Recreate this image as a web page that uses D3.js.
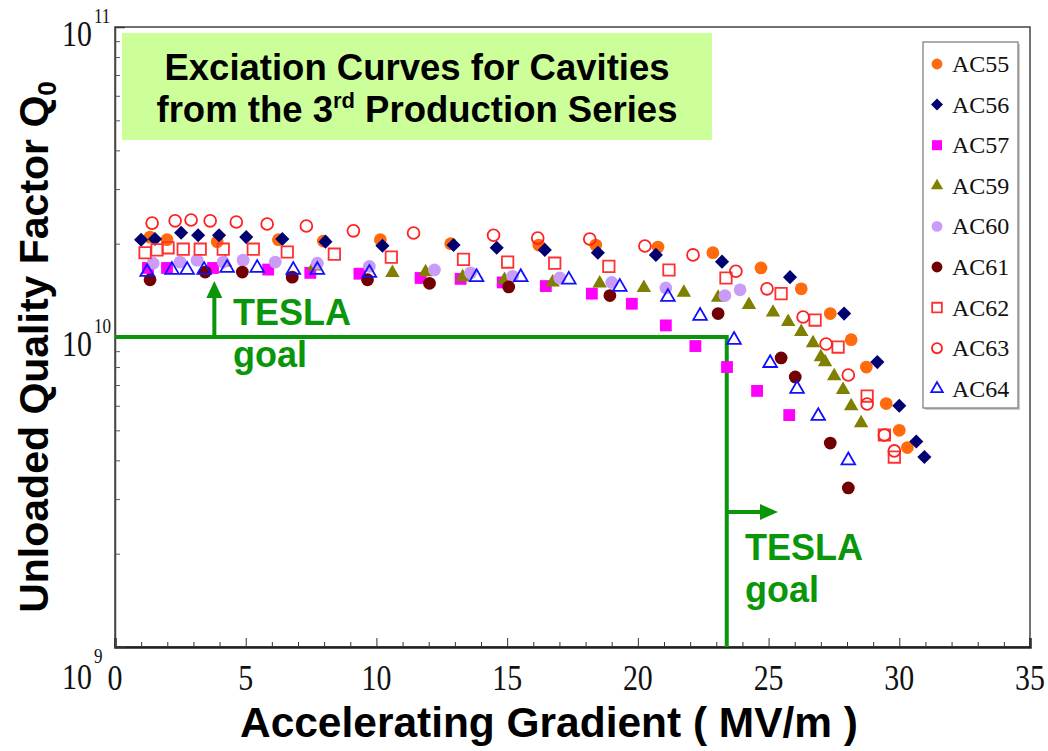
<!DOCTYPE html>
<html>
<head>
<meta charset="utf-8">
<script src="https://cdn.jsdelivr.net/npm/d3@7"></script>
<style>
  body { margin: 0; background: #fff; }
  svg { display: block; }
</style>
</head>
<body>
<svg id="chart" width="1048" height="751"></svg>
<script>
// Excitation curves: [accelerating gradient (MV/m), unloaded quality factor Q0]
const ac55 = [[1.34,2.10e10],[1.99,2.06e10],[3.91,2.03e10],[6.25,2.06e10],[7.97,2.04e10],[10.15,2.06e10],[12.84,2.00e10],[16.21,1.98e10],[18.39,1.98e10],[20.77,1.95e10],[22.87,1.87e10],[24.71,1.67e10],[26.25,1.43e10],[27.36,1.19e10],[28.16,9.8e9],[28.74,8.0e9],[29.5,6.1e9],[30.0,5.0e9],[30.31,4.4e9]];
const ac56 = [[1.0,2.06e10],[1.53,2.07e10],[2.53,2.17e10],[3.18,2.13e10],[3.98,2.13e10],[5.02,2.10e10],[6.40,2.07e10],[8.05,2.03e10],[10.23,1.97e10],[12.95,1.98e10],[14.6,1.94e10],[16.44,1.91e10],[18.47,1.87e10],[20.69,1.84e10],[23.22,1.75e10],[25.82,1.56e10],[27.89,1.19e10],[29.16,8.3e9],[30.0,6.0e9],[30.65,4.6e9],[30.96,4.1e9]];
const ac57 = [[1.26,1.67e10],[1.99,1.67e10],[3.75,1.67e10],[5.86,1.65e10],[7.47,1.61e10],[9.35,1.60e10],[11.69,1.55e10],[13.22,1.54e10],[14.83,1.50e10],[16.48,1.46e10],[18.24,1.38e10],[19.77,1.28e10],[21.07,1.09e10],[22.2,9.35e9],[23.41,8.0e9],[24.56,6.7e9],[25.79,5.6e9]];
const ac59 = [[4.21,1.74e10],[7.62,1.69e10],[10.61,1.61e10],[11.88,1.62e10],[13.3,1.56e10],[14.9,1.53e10],[16.74,1.50e10],[18.54,1.49e10],[20.23,1.44e10],[21.76,1.39e10],[23.07,1.34e10],[24.25,1.27e10],[25.17,1.20e10],[25.75,1.12e10],[26.25,1.04e10],[26.7,9.56e9],[27.0,8.62e9],[27.16,8.3e9],[27.51,7.48e9],[27.85,6.75e9],[28.16,5.99e9],[28.54,5.28e9]];
const ac60 = [[1.46,1.73e10],[2.49,1.745e10],[3.14,1.77e10],[4.14,1.745e10],[4.9,1.77e10],[6.13,1.745e10],[7.74,1.73e10],[9.73,1.69e10],[12.22,1.645e10],[13.6,1.61e10],[15.21,1.57e10],[17.01,1.55e10],[19.0,1.50e10],[21.07,1.44e10],[23.33,1.36e10],[23.91,1.42e10]];
const ac61 = [[1.34,1.53e10],[3.45,1.62e10],[4.87,1.62e10],[6.78,1.56e10],[9.66,1.53e10],[12.03,1.49e10],[15.06,1.45e10],[18.93,1.36e10],[23.07,1.19e10],[25.48,8.56e9],[26.02,7.43e9],[27.36,4.55e9],[28.05,3.26e9]];
const ac62 = [[1.15,1.87e10],[1.61,1.91e10],[2.03,1.94e10],[2.61,1.92e10],[3.26,1.92e10],[4.14,1.92e10],[5.29,1.92e10],[6.59,1.88e10],[8.39,1.85e10],[10.57,1.81e10],[13.33,1.78e10],[15.02,1.745e10],[16.82,1.73e10],[18.89,1.69e10],[21.19,1.645e10],[23.37,1.55e10],[25.48,1.38e10],[26.78,1.134e10],[27.66,9.28e9],[28.77,6.45e9],[29.43,4.83e9],[29.81,4.10e9]];
const ac63 = [[1.42,2.33e10],[2.3,2.37e10],[2.91,2.385e10],[3.64,2.37e10],[4.64,2.35e10],[5.82,2.315e10],[7.32,2.28e10],[9.12,2.20e10],[11.42,2.165e10],[14.48,2.13e10],[16.17,2.085e10],[18.16,2.07e10],[20.27,1.966e10],[22.11,1.84e10],[23.75,1.63e10],[24.94,1.43e10],[26.32,1.16e10],[27.2,9.49e9],[28.05,7.54e9],[28.77,6.08e9],[29.43,4.83e9],[29.81,4.29e9]];
const ac64 = [[1.23,1.62e10],[2.18,1.645e10],[2.76,1.645e10],[3.41,1.645e10],[4.29,1.67e10],[5.44,1.67e10],[6.82,1.645e10],[7.74,1.645e10],[9.73,1.61e10],[13.83,1.56e10],[15.52,1.56e10],[17.36,1.53e10],[19.31,1.45e10],[21.15,1.346e10],[22.38,1.17e10],[23.68,9.79e9],[25.06,8.24e9],[26.09,6.8e9],[26.9,5.56e9],[28.05,4.0e9]];

const seriesNames  = ["AC55","AC56","AC57","AC59","AC60","AC61","AC62","AC63","AC64"];
const seriesData   = [ac55, ac56, ac57, ac59, ac60, ac61, ac62, ac63, ac64];
const seriesColors = ["#ff6a0d","#000070","#ff00ff","#7f7f00","#c99cf7","#720000","#ff3030","#ff2020","#1010ff"];
const seriesShapes = ["circle","diamond","square","triangle","circle","circle","square","circle","triangle"];
const seriesFilled = [true,true,true,true,true,true,false,false,false];

const xTicks = [0,5,10,15,20,25,30,35];
const yTicks = [1e9,1e10,1e11];
const yTickExponents = ["9","10","11"];

const teslaGoalGradient = 23.4;
const teslaGoalQ0 = 1e10;

const titleLines = ["Exciation Curves for Cavities", "from the 3"];
const xLabel = "Accelerating Gradient ( MV/m )";
const yLabel = "Unloaded Quality Factor Q";

const svg = d3.select("#chart");
const x = d3.scaleLinear().domain([0, 35]).range([115, 1030]);
const y = d3.scaleLog().domain([1e9, 1e11]).range([647, 27]);

const green = "#0a960a";
const serif = "'Liberation Serif', 'Times New Roman', serif";
const sans = "'Liberation Sans', Arial, sans-serif";

// frame
svg.append("rect")
  .attr("x", x(0)).attr("y", y(1e11))
  .attr("width", x(35) - x(0)).attr("height", y(1e9) - y(1e11))
  .attr("fill", "none").attr("stroke", "#444").attr("stroke-width", 1.5);

// title panel
const tb = svg.append("g");
tb.append("rect").attr("x", 122).attr("y", 33).attr("width", 590).attr("height", 107)
  .attr("fill", "#ccff99");
tb.append("text").attr("x", 417).attr("y", 80).attr("text-anchor", "middle")
  .attr("font-family", sans).attr("font-weight", "bold").attr("font-size", 36.5)
  .text(titleLines[0]);
const t2 = tb.append("text").attr("x", 417).attr("y", 122).attr("text-anchor", "middle")
  .attr("font-family", sans).attr("font-weight", "bold").attr("font-size", 36.5);
t2.append("tspan").text(titleLines[1]);
t2.append("tspan").attr("font-size", 22).attr("dy", -14).text("rd");
t2.append("tspan").attr("dy", 14).text(" Production Series");

// x axis ticks (inward) with minor ticks every 1 MV/m
const xAxis = d3.axisBottom(x).tickValues(xTicks).tickSize(-9).tickFormat("");
const gx = svg.append("g").attr("transform", `translate(0,${y(1e9)})`).call(xAxis);
gx.select(".domain").attr("stroke", "#222").attr("stroke-width", 2.5);
gx.selectAll(".tick line").attr("stroke", "#333");
const xMinor = d3.axisBottom(x).tickValues(d3.range(0, 36).filter(v => v % 5 !== 0)).tickSize(-5).tickFormat("");
const gxm = svg.append("g").attr("transform", `translate(0,${y(1e9)})`).call(xMinor);
gxm.select(".domain").remove();
gxm.selectAll(".tick line").attr("stroke", "#333");

// x tick labels (condensed serif)
svg.append("g").selectAll("text").data(xTicks).join("text")
  .attr("transform", d => `translate(${x(d)},690) scale(0.83,1)`)
  .attr("text-anchor", "middle")
  .attr("font-family", serif).attr("font-size", 36).attr("fill", "#111")
  .text(d => d);

// y axis ticks (log, inward)
const yMinorVals = [];
[1e9, 1e10].forEach(b => { for (let k = 2; k <= 9; k++) yMinorVals.push(b * k); });
const yAxis = d3.axisLeft(y).tickValues(yTicks).tickSize(-10).tickFormat("");
const gy = svg.append("g").attr("transform", `translate(${x(0)},0)`).call(yAxis);
gy.select(".domain").attr("stroke", "#444").attr("stroke-width", 1.5);
gy.selectAll(".tick line").attr("stroke", "#333");
const yMinor = d3.axisLeft(y).tickValues(yMinorVals).tickSize(-5).tickFormat("");
const gym = svg.append("g").attr("transform", `translate(${x(0)},0)`).call(yMinor);
gym.select(".domain").remove();
gym.selectAll(".tick line").attr("stroke", "#555");

// y tick labels: 10 with superscript exponent
const yLab = svg.append("g");
yTicks.forEach((v, i) => {
  const base = v === 1e9 ? y(v) + 42 : y(v) + 19;
  const supBase = v === 1e9 ? y(v) + 16 : y(v) - 4;
  yLab.append("text")
    .attr("transform", `translate(92,${base}) scale(0.83,1)`)
    .attr("text-anchor", "end")
    .attr("font-family", serif).attr("font-size", 36).attr("fill", "#111")
    .text("10");
  yLab.append("text")
    .attr("transform", `translate(94,${supBase}) scale(0.85,1)`)
    .attr("text-anchor", "start")
    .attr("font-family", serif).attr("font-size", 20).attr("fill", "#111")
    .text(yTickExponents[i]);
});

// axis titles
svg.append("text")
  .attr("x", 549).attr("y", 737).attr("text-anchor", "middle")
  .attr("font-family", sans).attr("font-weight", "bold").attr("font-size", 43)
  .attr("textLength", 618).attr("lengthAdjust", "spacingAndGlyphs")
  .text(xLabel);
const yt = svg.append("text")
  .attr("transform", "translate(48,347) rotate(-90)")
  .attr("text-anchor", "middle")
  .attr("font-family", sans).attr("font-weight", "bold").attr("font-size", 41);
yt.append("tspan").text(yLabel);
yt.append("tspan").attr("font-size", 26).attr("dy", 8).text("0");

// TESLA goal lines
const gl = svg.append("g").attr("stroke", green).attr("fill", "none").attr("stroke-width", 4);
gl.append("path").attr("d", d3.line()([
  [x(0), y(teslaGoalQ0)], [x(teslaGoalGradient), y(teslaGoalQ0)], [x(teslaGoalGradient), y(1e9)]
]));
// up arrow for Q0 goal
const upX = x(3.8);
gl.append("line").attr("x1", upX).attr("x2", upX).attr("y1", y(teslaGoalQ0)).attr("y2", 296);
svg.append("path").attr("fill", green)
  .attr("d", `M${upX},281 L${upX - 8},298 L${upX + 8},298 Z`);
// right arrow for gradient goal
const arrY = 512;
gl.append("line").attr("x1", x(teslaGoalGradient)).attr("x2", 762).attr("y1", arrY).attr("y2", arrY);
svg.append("path").attr("fill", green)
  .attr("d", `M778,${arrY} L760,${arrY - 8} L760,${arrY + 8} Z`);

const goalText = svg.append("g").attr("fill", green).attr("font-family", sans)
  .attr("font-weight", "bold").attr("font-size", 36);
goalText.append("text").attr("x", 233).attr("y", 325).text("TESLA");
goalText.append("text").attr("x", 233).attr("y", 367).text("goal");
goalText.append("text").attr("x", 745).attr("y", 560).text("TESLA");
goalText.append("text").attr("x", 745).attr("y", 602).text("goal");

// marker shapes
function markerPath(shape, scale) {
  const s = scale * scale;
  if (shape === "circle") return d3.symbol(d3.symbolCircle, 128 * s)();
  if (shape === "diamond") return d3.symbol(d3.symbolSquare, 100 * s)();
  if (shape === "square") return d3.symbol(d3.symbolSquare, 140 * s)();
  return d3.symbol(d3.symbolTriangle, 90 * s)();
}
function openPath(shape, scale) {
  const s = scale * scale;
  if (shape === "circle") return d3.symbol(d3.symbolCircle, 110 * s)();
  if (shape === "square") return d3.symbol(d3.symbolSquare, 130 * s)();
  return d3.symbol(d3.symbolTriangle, 80 * s)();
}
function styleMarker(sel, i, scale) {
  sel.attr("d", seriesFilled[i] ? markerPath(seriesShapes[i], scale) : openPath(seriesShapes[i], scale))
    .attr("fill", seriesFilled[i] ? seriesColors[i] : "none")
    .attr("stroke", seriesFilled[i] ? "none" : seriesColors[i])
    .attr("stroke-width", seriesFilled[i] ? 0 : 1.8);
}

// data points
seriesData.forEach((data, i) => {
  const g = svg.append("g").attr("class", "series-" + seriesNames[i]);
  g.selectAll("path").data(data).join("path")
    .attr("transform", d => `translate(${x(d[0])},${y(d[1])})` + (seriesShapes[i] === "diamond" ? " rotate(45)" : ""))
    .call(sel => styleMarker(sel, i, 1));
});

// legend
const lg = svg.append("g");
lg.append("rect").attr("x", 925).attr("y", 44).attr("width", 95).attr("height", 366)
  .attr("fill", "#ccc");
lg.append("rect").attr("x", 923).attr("y", 42).attr("width", 95).attr("height", 366)
  .attr("fill", "#fff").attr("stroke", "#777").attr("stroke-width", 1.2);
seriesNames.forEach((name, i) => {
  const cy = 64 + i * 40.6;
  lg.append("path")
    .attr("transform", `translate(937,${cy})` + (seriesShapes[i] === "diamond" ? " rotate(45)" : ""))
    .call(sel => styleMarker(sel, i, 0.85));
  lg.append("text").attr("x", 952).attr("y", cy + 8)
    .attr("font-family", serif).attr("font-size", 24).attr("fill", "#111")
    .text(name);
});
</script>
</body>
</html>
